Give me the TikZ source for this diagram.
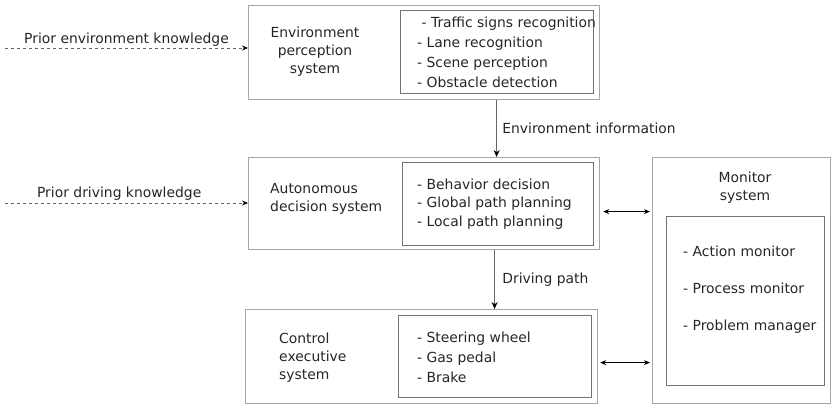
\documentclass[tikz,border=0pt]{standalone}
\usepackage{fontspec}
\setmainfont{DejaVu Sans}
\usetikzlibrary{arrows.meta, positioning}

\begin{document}
\begin{tikzpicture}[x=1pt, y=-1pt, >={Stealth[length=6pt, width=5pt]},
    font=\fontsize{13.9}{18}\selectfont, text=black!85,
    outerbox/.style 2 args={draw=gray!70, line width=1.2pt, minimum width=#1, minimum height=#2, inner sep=0pt, anchor=north west},
    innerbox/.style 2 args={draw=gray!90!black, line width=0.8pt, minimum width=#1, minimum height=#2, inner sep=0pt, anchor=north west},
    itemlist/.style={align=left, anchor=west, inner sep=0pt},
    flow/.style={-{Stealth[length=7pt, width=6pt, black]}, draw=gray!80!black, line width=0.8pt},
    prior/.style={-{Stealth[length=6pt, width=5pt, black]}, dashed, draw=gray!80!black, line width=0.7pt},
    link/.style={<->, draw=black, line width=0.8pt}]
    \useasboundingbox (0,0) rectangle (831,404);

    % Environment perception system
    \node[outerbox={351pt}{94pt}] (env) at (248,5) {};
    \node[innerbox={193pt}{83pt}] (envin) at (400,10) {};
    \node[align=center] (envtitle) at (315,52) {Environment\\perception\\system};
    \node[itemlist, font=\fontsize{13.9}{20}\selectfont] (envlist) at (417,52)
        {\ - Traffic signs recognition\\- Lane recognition\\- Scene perception\\- Obstacle detection};

    % Autonomous decision system
    \node[outerbox={351pt}{92pt}] (dec) at (248,157) {};
    \node[innerbox={191pt}{83pt}] (decin) at (402,162) {};
    \node[align=left, anchor=west, inner sep=0pt] (dectitle) at (270,199) {Autonomous\\decision system};
    \node[itemlist, font=\fontsize{13.9}{18.5}\selectfont] (declist) at (417,204)
        {- Behavior decision\\- Global path planning\\- Local path planning};

    % Control executive system
    \node[outerbox={352pt}{94pt}] (ctrl) at (245,309) {};
    \node[innerbox={193pt}{82pt}] (ctrlin) at (398,315) {};
    \node[align=left, anchor=west, inner sep=0pt] (ctrltitle) at (279,358) {Control\\executive\\system};
    \node[itemlist, font=\fontsize{13.9}{20}\selectfont] (ctrllist) at (417,357)
        {- Steering wheel\\- Gas pedal\\- Brake};

    % Monitor system
    \node[outerbox={178pt}{246pt}] (mon) at (652,157) {};
    \node[innerbox={158pt}{169pt}] (monin) at (666,216) {};
    \node[align=center] (montitle) at (745,188) {Monitor\\system};
    \node[itemlist, font=\fontsize{13.9}{37}\selectfont] (monlist) at (683,290)
        {- Action monitor\\- Process monitor\\- Problem manager};

    % Prior knowledge inputs
    \coordinate (penv) at (5,48);
    \coordinate (pdrv) at (5,203);
    \draw[prior] (penv) -- (penv -| env.west) node[midway, above, inner sep=1.5pt] {Prior environment knowledge};
    \draw[prior] (pdrv) -- (pdrv -| dec.west) node[pos=0.47, above, inner sep=2pt] {Prior driving knowledge};

    % Information flow
    \draw[flow] ([xshift=72.5pt]env.south) -- ([xshift=72.5pt]dec.north)
        node[midway, right, xshift=2pt] {Environment information};
    \draw[flow] ([xshift=70.5pt]dec.south) -- ([xshift=73pt]ctrl.north)
        node[midway, right, xshift=4pt] {Driving path};

    % Links to the monitor
    \coordinate (declink) at ([yshift=-8pt, xshift=3pt]dec.east);
    \coordinate (ctrllink) at ([yshift=-6pt, xshift=2pt]ctrl.east);
    \draw[link] (declink) -- ([xshift=-2pt]declink -| mon.west);
    \draw[link] (ctrllink) -- ([xshift=-2pt]ctrllink -| mon.west);
\end{tikzpicture}
\end{document}
